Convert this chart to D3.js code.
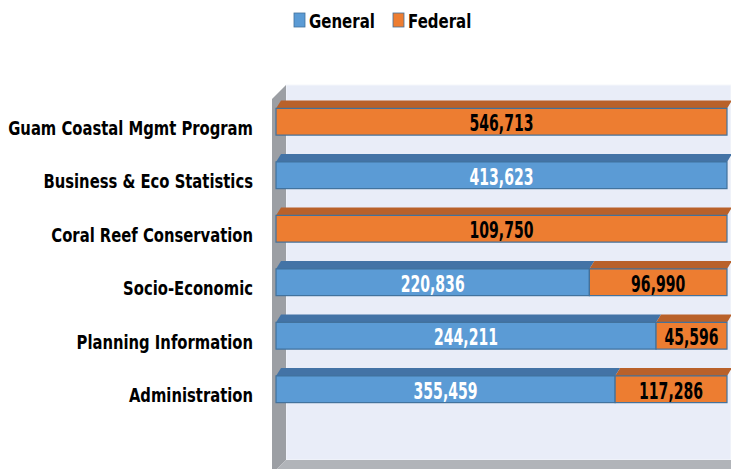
<!DOCTYPE html>
<html>
<head>
<meta charset="utf-8">
<script src="https://cdn.jsdelivr.net/npm/d3@7"></script>
<style>
  body { margin: 0; background: #fff; }
  text { font-family: "DejaVu Sans", sans-serif; font-weight: bold; }
</style>
</head>
<body>
<div id="chart"></div>
<script>
const categories = ["Guam Coastal Mgmt Program", "Business & Eco Statistics", "Coral Reef Conservation",
                    "Socio-Economic", "Planning Information", "Administration"];
const general = [0, 413623, 0, 220836, 244211, 355459];
const federal = [546713, 0, 109750, 96990, 45596, 117286];
const seriesNames = ["General", "Federal"];

const W = 731, H = 469;
const colors = {General: "#5B9BD5", Federal: "#ED7D31"};
const topColors = {General: "#4373A6", Federal: "#B9612A"};
const depthX = 5, depthY = 8;
const fmt = d3.format(",");

const svg = d3.select("#chart").append("svg")
  .attr("width", W).attr("height", H);

// narrow text like Calibri: squeeze horizontally so a sample string hits a width
function squeeze(sel, sampleText, targetW) {
  const nodes = sel.nodes();
  const sample = nodes.find(n => n.textContent === sampleText) || nodes[0];
  const k = targetW / sample.getComputedTextLength();
  sel.each(function() {
    const t = d3.select(this);
    const tx = +t.attr("x") || 0, ty = +t.attr("y") || 0;
    t.attr("x", 0).attr("y", 0)
      .attr("transform", `translate(${tx},${ty}) scale(${k},1)`);
  });
}

const rows = categories.map((c, i) => ({cat: c, General: general[i], Federal: federal[i]}));
const stacked = d3.stack().keys(seriesNames).offset(d3.stackOffsetExpand)(rows);

const x = d3.scaleLinear().domain([0, 1]).range([276, 727]);
const y = d3.scaleBand().domain(categories).range([95, 416]).paddingInner(0.5).paddingOuter(0.25);

// walls
const wallL = 286, wallT = 85, wallB = 460, wd = 14;
svg.append("rect").attr("x", wallL).attr("y", wallT).attr("width", W - wallL).attr("height", wallB - wallT)
  .attr("fill", "#E9EDF8").attr("stroke", "#F5F7FB").attr("stroke-width", 1);
svg.append("path")
  .attr("d", `M${wallL - wd},${wallT + wd} L${wallL},${wallT} L${wallL},${wallB} L${wallL - wd},${wallB + wd} Z`)
  .attr("fill", "#9C9FA4");
svg.append("path")
  .attr("d", `M${wallL},${wallB} L${W + 20},${wallB} L${W + 20 - wd},${wallB + wd} L${wallL - wd},${wallB + wd} Z`)
  .attr("fill", "#B1B4B9");

// bars
const g = svg.append("g");
const labels = svg.append("g");
stacked.forEach(s => {
  const key = s.key;
  s.forEach(d => {
    const x0 = x(d[0]), x1 = x(d[1]);
    if (x1 - x0 <= 0) return;
    const yy = y(d.data.cat), bh = y.bandwidth();
    g.append("path")
      .attr("d", `M${x0},${yy} L${x0 + depthX},${yy - depthY} L${x1 + depthX},${yy - depthY} L${x1},${yy} Z`)
      .attr("fill", topColors[key]);
    g.append("rect")
      .attr("x", x0).attr("y", yy).attr("width", x1 - x0).attr("height", bh)
      .attr("fill", colors[key]).attr("stroke", "#41719C").attr("stroke-width", 1.2);
    labels.append("text")
      .attr("x", (x0 + x1) / 2).attr("y", yy + bh / 2 + 1)
      .attr("dy", "0.36em")
      .attr("text-anchor", "middle")
      .attr("font-size", 23)
      .attr("fill", key === "General" ? "#fff" : "#000")
      .text(fmt(d.data[key]));
  });
});
squeeze(labels.selectAll("text"), "546,713", 64);

// category labels
const yAxis = svg.append("g")
  .attr("transform", `translate(253,6)`)
  .call(d3.axisLeft(y).tickSize(0).tickPadding(0));
yAxis.select(".domain").remove();
yAxis.attr("font-family", null).attr("font-size", null);
yAxis.selectAll("text")
  .attr("font-size", 19).attr("fill", "#000")
  .attr("dy", "0.36em");
squeeze(yAxis.selectAll(".tick text"), "Guam Coastal Mgmt Program", 245);

// legend
const legend = svg.append("g");
const legendX = [294, 393];
seriesNames.forEach((n, i) => {
  legend.append("rect").attr("x", legendX[i]).attr("y", 13).attr("width", 11).attr("height", 14)
    .attr("fill", colors[n]).attr("stroke", "#41719C").attr("stroke-width", 0.8);
  legend.append("text").attr("x", legendX[i] + 15).attr("y", 21).attr("dy", "0.36em")
    .attr("font-size", 20).attr("fill", "#000").text(n);
});
squeeze(legend.selectAll("text"), "General", 66);
</script>
</body>
</html>
